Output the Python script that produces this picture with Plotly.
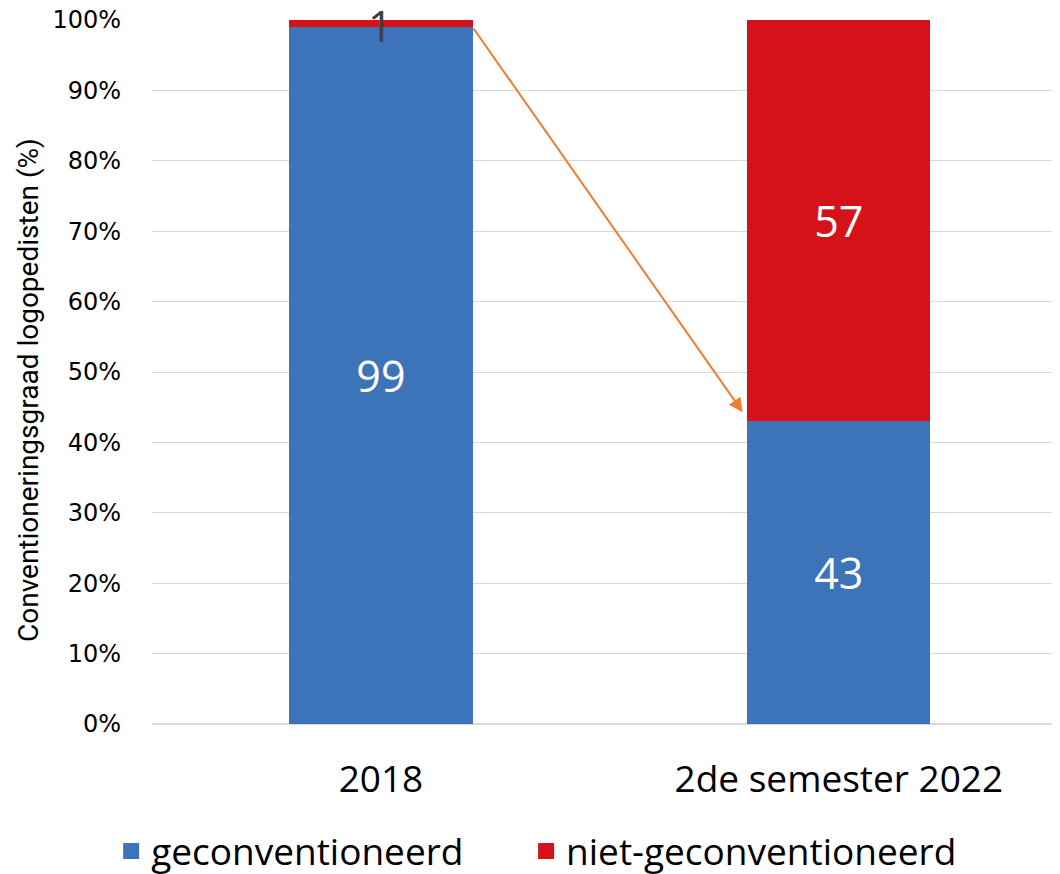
import plotly.graph_objects as go

categories = ["2018", "2de semester 2022"]
geconventioneerd = [99, 43]
niet_geconventioneerd = [1, 57]
legend_names = ["geconventioneerd", "niet-geconventioneerd"]

BLUE = "#3D73B9"
RED = "#D51219"
FONT = "Open Sans"

fig = go.Figure()

fig.add_trace(go.Bar(
    x=categories, y=geconventioneerd, name=legend_names[0],
    marker_color=BLUE, marker_line_width=0, width=0.4, showlegend=False,
    text=[str(v) for v in geconventioneerd], textposition="inside",
    insidetextanchor="middle", textangle=0,
    textfont=dict(color="white", size=43, family=FONT),
))
fig.add_trace(go.Bar(
    x=categories, y=niet_geconventioneerd, name=legend_names[1],
    marker_color=RED, marker_line_width=0, width=0.4, showlegend=False,
    text=["" if v < 5 else str(v) for v in niet_geconventioneerd], textposition="inside",
    insidetextanchor="middle", textangle=0,
    textfont=dict(color="white", size=43, family=FONT),
))

# legend entries with bigger square swatches (nbsp padding widens the gap)
pad = "\u00a0" * 6
for name, color in [(legend_names[0] + pad, BLUE), (legend_names[1], RED)]:
    fig.add_trace(go.Scatter(
        x=[None], y=[None], mode="markers", name=name,
        marker=dict(symbol="square", size=24, color=color),
    ))

# small segment label drawn over the bar top
fig.add_annotation(
    x=0, y=geconventioneerd[0] + niet_geconventioneerd[0] / 2,
    xref="x", yref="y",
    text=str(niet_geconventioneerd[0]), showarrow=False,
    font=dict(color="#404040", size=43, family=FONT), yshift=-2,
)

# orange arrow from top of 2018 bar to 2022 blue segment
fig.add_annotation(
    x=0.79, y=44.3, ax=0.2, ay=geconventioneerd[0],
    xref="x", yref="y", axref="x", ayref="y",
    showarrow=True, arrowhead=2, arrowsize=1.4, arrowwidth=2,
    arrowcolor="#ED7D31", text="",
)

# y axis title
fig.add_annotation(
    x=0, y=0.5, xref="paper", yref="paper", xanchor="center", yanchor="middle",
    xshift=-124, yshift=-18, textangle=-90, showarrow=False,
    text="Conventioneringsgraad logopedisten (%)",
    font=dict(size=28, family="Roboto", color="#000000"),
)

# page body has an 8px margin, so the figure is 8px smaller than the window
fig.update_layout(
    width=1052, height=866,
    margin=dict(l=144, r=0, t=12, b=150, autoexpand=False),
    plot_bgcolor="white", paper_bgcolor="white",
    barmode="stack", bargap=0.6,
    font=dict(family=FONT, color="#000000"),
    showlegend=True,
    legend=dict(
        orientation="h", x=-0.045, xanchor="left", y=-0.137, yanchor="top",
        font=dict(size=37, family=FONT), itemwidth=30, traceorder="normal",
    ),
    xaxis=dict(
        type="category", range=[-0.5, 1.483],
        tickfont=dict(size=37, family=FONT), showgrid=False,
        showline=False, ticks="", ticklabelstandoff=30,
    ),
    yaxis=dict(
        range=[0, 100], dtick=10, ticksuffix="%",
        tickfont=dict(size=24, family="DejaVu Sans"),
        showgrid=True, gridcolor="#D9D9D9", gridwidth=1,
        zeroline=True, zerolinecolor="#D9D9D9",
        ticklabelstandoff=30, ticklabeloverflow="allow",
    ),
)

fig.write_html("out.html")
